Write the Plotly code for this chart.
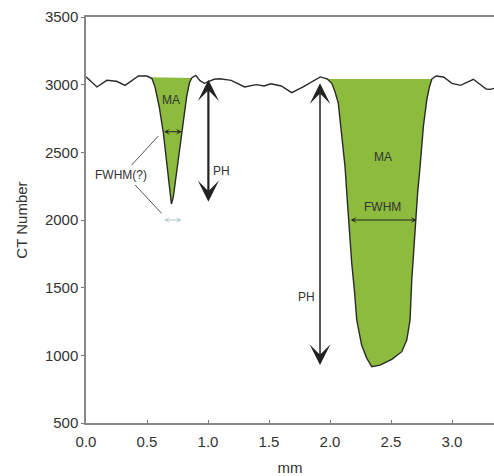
import plotly.graph_objects as go

# ---- profile data (mm, CT number) ----
X_MM = [0.0, 0.09, 0.17, 0.25, 0.32, 0.43, 0.50, 0.525, 0.54, 0.565, 0.60, 0.634, 0.66, 0.68,
        0.70, 0.716, 0.757, 0.79, 0.825, 0.847, 0.866, 0.90, 0.934, 0.97, 1.05, 1.098, 1.19,
        1.30, 1.395, 1.46, 1.515, 1.60, 1.686, 1.78, 1.92, 1.955, 1.978, 2.014, 2.041, 2.068,
        2.096, 2.123, 2.145, 2.16, 2.178, 2.20, 2.219, 2.259, 2.30, 2.342, 2.41, 2.506, 2.588,
        2.629, 2.656, 2.67, 2.697, 2.718, 2.738, 2.765, 2.793, 2.814, 2.835, 2.87, 2.93, 3.00,
        3.07, 3.175, 3.28, 3.315, 3.344]
CT = [3059, 2983, 3032, 3025, 2995, 3064, 3064, 3055, 3045, 2985, 2837, 2643, 2443, 2246,
      2118, 2172, 2443, 2689, 2911, 3010, 3050, 3069, 3030, 3010, 3040, 3044, 3032,
      2983, 3000, 2990, 3007, 2990, 2941, 2983, 3057, 3048, 3042, 3010, 2948, 2862,
      2640, 2394, 2100, 1900, 1680, 1480, 1261, 1076, 980, 916, 928, 970, 1027,
      1113, 1261, 1556, 1926, 2200, 2394, 2689, 2887, 2980, 3042, 3064, 3057, 3010,
      2995, 3040, 2968, 2965, 2973]

# dip ranges used for the green fill (mm)
DIP_RANGES = [(0.525, 0.866), (1.978, 2.835)]

X_TICKS = [0.0, 0.5, 1.0, 1.5, 2.0, 2.5, 3.0]
Y_TICKS = [500, 1000, 1500, 2000, 2500, 3000, 3500]

# annotation values
SMALL_FWHM = (0.628, 0.784, 2652)
GRAY_FWHM = (0.628, 0.784, 2000)
BIG_FWHM = (2.158, 2.71, 2000)
SMALL_PH = (1.003, 3047, 2135)
BIG_PH = (1.918, 3022, 928)
LEADERS = [((0.374, 2406), (0.593, 2621)), ((0.402, 2259), (0.620, 2049))]
LABELS = [("MA", 0.70, 2887), ("FWHM(?)", 0.287, 2333), ("PH", 1.107, 2364),
          ("MA", 2.437, 2463), ("FWHM", 2.432, 2098), ("PH", 1.81, 1433)]

GREEN = "#8CBB3E"
FONT = "Liberation Sans, Arial, sans-serif"

fig = go.Figure()

for lo, hi in DIP_RANGES:
    xs = [x for x in X_MM if lo <= x <= hi]
    ys = [y for x, y in zip(X_MM, CT) if lo <= x <= hi]
    fig.add_trace(go.Scatter(x=xs, y=ys, fill="toself", fillcolor=GREEN,
                             mode="lines", line=dict(width=0), hoverinfo="skip"))

fig.add_trace(go.Scatter(x=X_MM, y=CT, mode="lines",
                         line=dict(color="#2a2a2a", width=1.4)))

anns = []

def harrow(x0, x1, y, color, w=1.0, size=1.0):
    anns.append(dict(x=x1, y=y, ax=x0, ay=y, xref="x", yref="y", axref="x", ayref="y",
                     text="", showarrow=True, arrowside="end+start",
                     arrowhead=3, startarrowhead=3, arrowsize=size, startarrowsize=size,
                     arrowwidth=w, arrowcolor=color))

def varrow(x, y0, y1, color, w, size):
    anns.append(dict(x=x, y=y1, ax=x, ay=y0, xref="x", yref="y", axref="x", ayref="y",
                     text="", showarrow=True, arrowside="end+start",
                     arrowhead=3, startarrowhead=3, arrowsize=size, startarrowsize=size,
                     arrowwidth=w, arrowcolor=color))

harrow(SMALL_FWHM[0], SMALL_FWHM[1], SMALL_FWHM[2], "#222", 1.0, 1.0)
harrow(GRAY_FWHM[0], GRAY_FWHM[1], GRAY_FWHM[2], "#b5c3c8", 1.0, 1.0)
harrow(BIG_FWHM[0], BIG_FWHM[1], BIG_FWHM[2], "#222", 1.0, 1.0)
varrow(SMALL_PH[0], SMALL_PH[1], SMALL_PH[2], "#222", 2.2, 1.6)
varrow(BIG_PH[0], BIG_PH[1], BIG_PH[2], "#222", 1.5, 2.3)

for txt, x, y in LABELS:
    anns.append(dict(x=x, y=y, xref="x", yref="y", text=txt, showarrow=False,
                     font=dict(family=FONT, size=12, color="#333")))

shapes = []
for (a, b) in LEADERS:
    shapes.append(dict(type="line", xref="x", yref="y", x0=a[0], y0=a[1], x1=b[0], y1=b[1],
                       line=dict(color="#555", width=1)))

fig.update_layout(
    width=494, height=476,
    margin=dict(l=86, r=0, t=17, b=53),
    paper_bgcolor="white", plot_bgcolor="white",
    showlegend=False,
    annotations=anns, shapes=shapes,
    font=dict(family=FONT, size=15, color="#333"),
    xaxis=dict(range=[0, 3.344], tickvals=X_TICKS, tickformat=".1f",
               ticks="inside", ticklen=3, tickcolor="#777", ticklabelstandoff=4,
               showline=True, linecolor="#888", linewidth=1.5, mirror=True,
               showgrid=False, zeroline=False,
               title=dict(text="mm", standoff=15, font=dict(size=15))),
    yaxis=dict(range=[500, 3500], tickvals=Y_TICKS,
               ticks="outside", ticklen=3, tickcolor="#777",
               showline=True, linecolor="#888", linewidth=1.5,
               showgrid=False, zeroline=False,
               title=dict(text="CT Number", standoff=14, font=dict(size=15))),
)

fig.write_html("out.html")
